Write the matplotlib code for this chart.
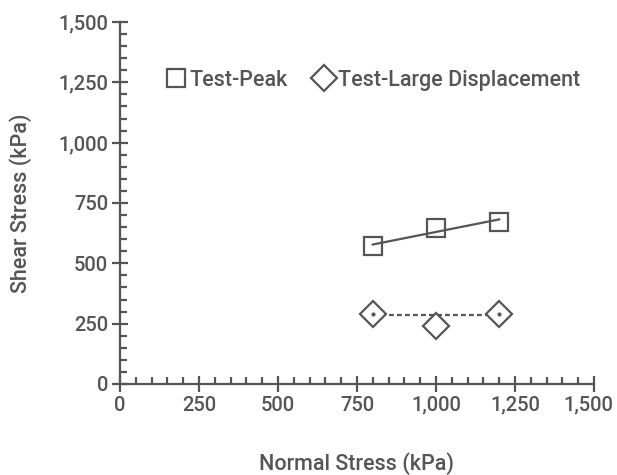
import matplotlib
matplotlib.use("Agg")
import matplotlib.pyplot as plt
from matplotlib.ticker import MultipleLocator, FuncFormatter
from matplotlib.transforms import ScaledTranslation

plt.rcParams['font.family'] = ['Roboto', 'DejaVu Sans']
plt.rcParams['font.weight'] = 500
plt.rcParams['axes.labelweight'] = 500

# Data
normal_stress = [800, 1000, 1200]
peak_shear = [570, 645, 670]
large_disp_shear = [290, 242, 290]
fit_x = [800, 1200]
peak_fit = [578, 682]
large_disp_fit = [284, 284]
labels = ["Test-Peak", "Test-Large Displacement"]
ticks = [0, 250, 500, 750, 1000, 1250, 1500]

C = '#555555'
fig = plt.figure(figsize=(6.17, 4.75), dpi=100)
ax = fig.add_axes([0.1945, 0.1916, 0.7682, 0.7621])

ax.plot(fit_x, large_disp_fit, color=C, lw=1.6, ls=(0, (2.2, 1.4)), zorder=2)
ax.plot(normal_stress, peak_shear, ls='none', marker='s', ms=13, mfc='none',
        mec=C, mew=1.6, label=labels[0], zorder=3)
ax.plot(normal_stress, large_disp_shear, ls='none', marker='D', ms=13, mfc='white',
        mec=C, mew=1.6, label=labels[1], zorder=3)
ax.plot(fit_x, large_disp_shear[::2], ls='none', marker='o', ms=2, color=C, zorder=4)
ax.plot(fit_x, peak_fit, color=C, lw=1.6, zorder=4)

ax.set_xlim(0, 1500)
ax.set_ylim(0, 1500)
ax.set_xticks(ticks)
ax.set_yticks(ticks)
ax.xaxis.set_minor_locator(MultipleLocator(50))
ax.yaxis.set_minor_locator(MultipleLocator(50))
fmt = FuncFormatter(lambda v, p: f"{int(v):,}")
ax.xaxis.set_major_formatter(fmt)
ax.yaxis.set_major_formatter(fmt)

for s in ['top', 'right']:
    ax.spines[s].set_visible(False)
for s in ['left', 'bottom']:
    ax.spines[s].set_color(C)
    ax.spines[s].set_linewidth(1.6)

ax.tick_params(which='major', direction='inout', length=11, width=1.6, color=C,
               labelcolor=C, labelsize=14.5, pad=3)
ax.tick_params(which='minor', direction='in', length=5, width=1.6, color=C)

# keep the last x tick label inside the canvas
last = ax.get_xticklabels()[-1]
last.set_transform(last.get_transform() + ScaledTranslation(-4 / 72, 0, fig.dpi_scale_trans))

ax.set_xlabel("Normal Stress (kPa)", color=C, fontsize=15.5, fontweight=500, labelpad=27)
ax.set_ylabel("Shear Stress (kPa)", color=C, fontsize=15.5, fontweight=500, labelpad=19)

leg = fig.legend(handles=ax.get_lines()[1:3], labels=labels, loc='center left',
                 bbox_to_anchor=(165 / 617, 1 - 80.5 / 475), ncol=2, frameon=False,
                 fontsize=15.5, handlelength=1.0, handletextpad=0.15, columnspacing=1.15,
                 borderpad=0, borderaxespad=0, labelcolor=C)
for h in leg.legend_handles:
    h.set_markerfacecolor('none')

fig.savefig("out.png", dpi=100)
